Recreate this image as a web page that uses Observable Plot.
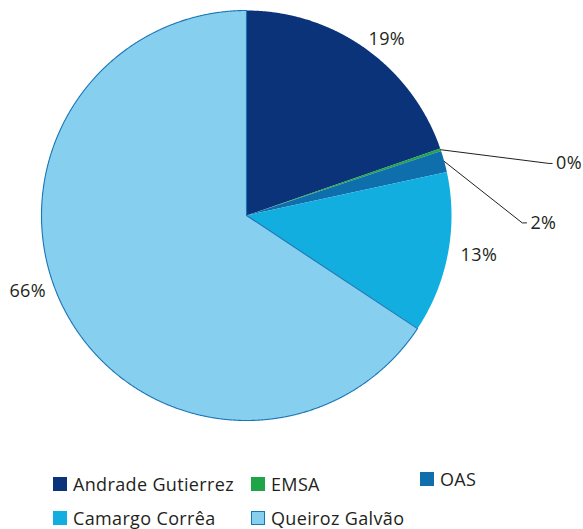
<!DOCTYPE html>
<html><head><meta charset="utf-8">
<script src="https://cdn.jsdelivr.net/npm/d3@7"></script>
<script src="https://cdn.jsdelivr.net/npm/@observablehq/plot@0.6"></script>
<style>
body{margin:0;background:#fff;font-family:"Open Sans",sans-serif}
#wrap{position:relative;width:583px;height:529px;overflow:hidden}
.lg{position:absolute;display:flex;align-items:center;font-size:18px;line-height:18px;height:18px;letter-spacing:0.35px;color:#231f20;white-space:nowrap}
.sw{width:14px;height:14px;margin-right:6px;box-sizing:border-box;flex:none}
</style></head>
<body><div id="wrap"></div>
<script>
const companies = ["Andrade Gutierrez","EMSA","OAS","Camargo Corrêa","Queiroz Galvão"];
const shares = [19.7, 0.2, 1.7, 12.7, 65.7];
const labels = ["19%","0%","2%","13%","66%"];
const colors = ["#0b3379","#1ea548","#0f6fac","#12aee0","#87cfef"];

// layout
const W = 583, H = 529, R = 205, CX = 246, CY = 215;
const insideLabels = [{i:0, r:1.10, da:3}, {i:3, r:1.15, da:-0.9}, {i:4, r:1.13, da:9.1}];
const leaderLabels = [{i:1, ex:1.475, ey:0.254, end:1.491, tx:1.51}, {i:2, ex:1.345, ey:-0.036, end:1.366, tx:1.385}];
const legendPos = [{i:0,left:53,top:475},{i:1,left:251,top:475},{i:2,left:420,top:469.5},{i:3,left:53,top:508.5},{i:4,left:251,top:508.5}];

const arcs = d3.pie().sort(null).value(d => d)(shares);
const pt = (a, r=1) => ({x: r*Math.sin(a), y: r*Math.cos(a)});
const slices = arcs.map((a, i) => {
  const n = Math.max(2, Math.ceil((a.endAngle - a.startAngle)/0.004) + 1);
  const pts = [{x:0,y:0}];
  for (let k = 0; k < n; k++) pts.push(pt(a.startAngle + (a.endAngle - a.startAngle)*k/(n-1)));
  return pts;
});
const mid = i => (arcs[i].startAngle + arcs[i].endAngle)/2;

const marks = slices.map((pts, i) => Plot.line(pts, {
  x:"x", y:"y", curve:"linear-closed", fill: colors[i],
  stroke: i === 4 ? "#1a75b5" : "none", strokeWidth: 1.1
}));

const txt = {x:"x", y:"y", text:"text", fontSize:18, fill:"#231f20", fontFamily:"Open Sans", lineAnchor:"middle", style:"letter-spacing:0.35px"};
const inside = insideLabels.map(l => {
  const p = pt(mid(l.i) + l.da*Math.PI/180, l.r);
  return {...p, text: labels[l.i]};
});
marks.push(Plot.text(inside, {...txt, textAnchor:"middle"}));

leaderLabels.forEach(l => {
  const s = pt(mid(l.i));
  marks.push(Plot.line([s, {x:l.ex, y:l.ey}, {x:l.end, y:l.ey}], {x:"x", y:"y", stroke:"#231f20", strokeWidth:1}));
});
marks.push(Plot.text(leaderLabels.map(l => ({x:l.tx, y:l.ey, text:labels[l.i]})), {...txt, textAnchor:"start"}));

const chart = Plot.plot({
  width: W, height: H, margin: 0,
  x: {domain: [-CX/R, (W-CX)/R], range: [0, W], axis: null},
  y: {domain: [CY/R, (CY-H)/R], range: [0, H], axis: null},
  style: {background: "#fff", overflow: "visible"},
  marks
});
chart.querySelectorAll("text").forEach(t => t.style.letterSpacing = "0.35px");
const wrap = document.getElementById("wrap");
wrap.appendChild(chart);

legendPos.forEach(p => {
  const d = document.createElement("div");
  d.className = "lg";
  d.style.left = p.left + "px";
  d.style.top = p.top + "px";
  const sw = document.createElement("div");
  sw.className = "sw";
  sw.style.background = colors[p.i];
  if (p.i === 4) sw.style.border = "1.5px solid #1a75b5";
  d.appendChild(sw);
  const t = document.createElement("span");
  t.textContent = companies[p.i];
  d.appendChild(t);
  wrap.appendChild(d);
});
</script>
</body></html>
